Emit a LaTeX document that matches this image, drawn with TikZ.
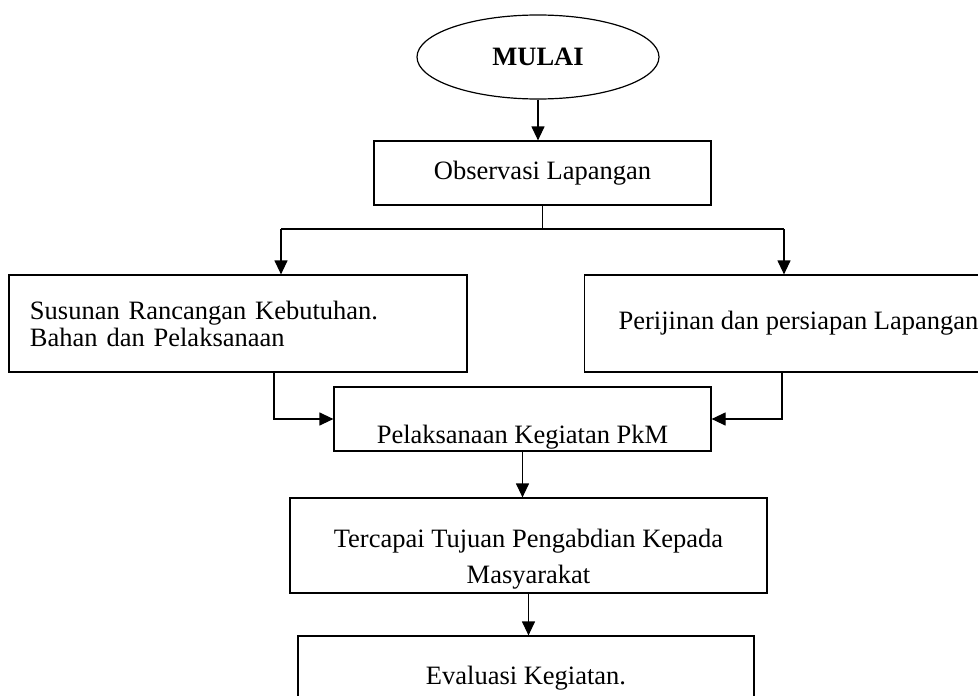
\documentclass[tikz,border=0pt]{standalone}
\usepackage{fontspec}
\setmainfont{Liberation Serif}
\usetikzlibrary{shapes.geometric,arrows.meta}

\begin{document}
\begin{tikzpicture}[x=1pt,y=-1pt,line width=1.2pt,
  box/.style={draw,rectangle,inner sep=0pt,font=\fontsize{26.5}{27}\selectfont},
  arr/.style={-{Triangle[length=14pt,width=13pt]}}]
  \useasboundingbox (0,0) rectangle (978,696);
  % start
  \node[draw,ellipse,minimum width=242pt,minimum height=84pt,inner sep=0pt,
    font=\fontsize{26.5}{27}\selectfont\bfseries] (mulai) at (538,57) {MULAI};
  \node[box,minimum width=337pt,minimum height=64pt] (obs) at (542.5,173) {Observasi Lapangan};
  % two branches
  \node[box,minimum height=97pt,text width=416pt,align=left,inner xsep=21pt] (susun)
    at (238,323.5) {Susunan Rancangan Kebutuhan.\\Bahan dan Pelaksanaan};
  \node[box,anchor=west,minimum height=97pt,inner xsep=34pt] (izin)
    at (584,323.5) {Perijinan dan persiapan Lapangan};
  % main line
  \node[box,minimum width=377pt,text height=56pt,text depth=8pt] (pkm)
    at (522.5,419) {Pelaksanaan Kegiatan PkM};
  \node[box,minimum width=477pt,minimum height=95pt,align=center,
    font=\fontsize{26.5}{36}\selectfont] (tujuan)
    at (528.5,545.5) {\rule{0pt}{46pt}Tercapai Tujuan Pengabdian Kepada\\Masyarakat};
  \node[box,minimum width=456pt,minimum height=84pt] (eval) at (526,678) {Evaluasi Kegiatan.};

  \coordinate (splitL) at (281,229);
  \coordinate (splitR) at (784,229);
  \coordinate (bendL) at (274,423);
  \coordinate (bendR) at (782,422);

  \draw[arr] (mulai.south) -- (mulai.south |- obs.north);
  \draw (obs.south) -- (obs.south |- splitL);
  \draw (splitL) -- (splitR);
  \draw[arr] (splitL) -- (splitL |- susun.north);
  \draw[arr] (splitR) -- (splitR |- izin.north);
  \draw[arr] (susun.south -| bendL) |- (pkm.west);
  \draw[arr] (izin.south -| bendR) |- (pkm.east);
  \draw[arr] (pkm.south) -- (pkm.south |- tujuan.north);
  \draw[arr] (tujuan.south) -- (tujuan.south |- eval.north);
\end{tikzpicture}
\end{document}
